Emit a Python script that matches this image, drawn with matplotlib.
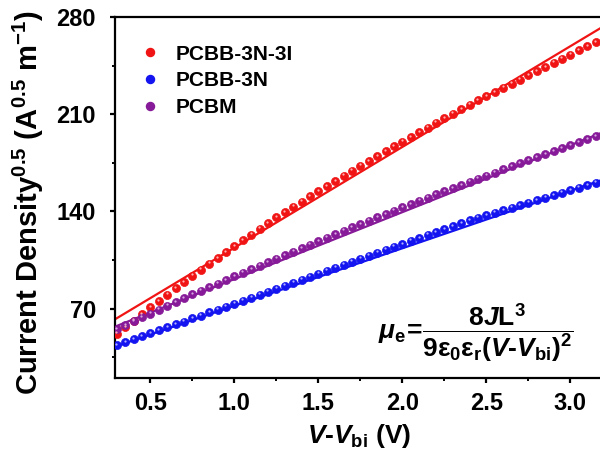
import matplotlib
matplotlib.use("Agg")
import matplotlib.pyplot as plt
from matplotlib.transforms import offset_copy
from matplotlib.lines import Line2D

plt.rcParams['font.family'] = ['Liberation Sans', 'DejaVu Sans']
plt.rcParams['font.weight'] = 'bold'
plt.rcParams['mathtext.fontset'] = 'custom'
plt.rcParams['mathtext.rm'] = 'Liberation Sans:bold'
plt.rcParams['mathtext.it'] = 'Liberation Sans:italic:bold'
plt.rcParams['mathtext.bf'] = 'Liberation Sans:bold'
plt.rcParams['mathtext.default'] = 'rm'

# ---- data ----
voltage = [0.30, 0.35, 0.40, 0.45, 0.50, 0.55, 0.60, 0.65, 0.70, 0.75,
           0.80, 0.85, 0.90, 0.95, 1.00, 1.05, 1.10, 1.15, 1.20, 1.25,
           1.30, 1.35, 1.40, 1.45, 1.50, 1.55, 1.60, 1.65, 1.70, 1.75,
           1.80, 1.85, 1.90, 1.95, 2.00, 2.05, 2.10, 2.15, 2.20, 2.25,
           2.30, 2.35, 2.40, 2.45, 2.50, 2.55, 2.60, 2.65, 2.70, 2.75,
           2.80, 2.85, 2.90, 2.95, 3.00, 3.05, 3.10, 3.15, 3.20]

pcbb_3n_3i = [52.0, 56.7, 61.4, 66.1, 70.8, 75.4, 80.0, 84.6, 89.2, 93.8,
              98.1, 102.3, 106.5, 110.7, 114.9, 119.1, 123.3, 127.5, 131.6, 135.7,
              139.5, 143.3, 147.1, 150.8, 154.5, 158.2, 161.9, 165.6, 169.3, 172.8,
              176.3, 179.8, 183.3, 186.8, 190.2, 193.6, 197.0, 200.4, 203.8, 207.1,
              210.4, 213.7, 217.0, 220.0, 223.0, 226.0, 229.0, 232.0, 235.0, 238.0,
              241.0, 244.0, 247.0, 250.0, 253.0, 256.0, 259.0, 262.0, 265.0]

pcbb_3n = [43.5, 45.7, 47.8, 50.0, 52.1, 54.3, 56.4, 58.6, 60.7, 62.9,
           65.0, 67.2, 69.3, 71.5, 73.6, 75.8, 77.9, 80.1, 82.2, 84.4,
           86.5, 88.7, 90.8, 93.0, 95.1, 97.3, 99.4, 101.6, 103.7, 105.9,
           108.0, 110.2, 112.3, 114.5, 116.6, 118.8, 120.9, 123.1, 125.2, 127.4,
           129.5, 131.7, 133.8, 135.6, 137.4, 139.2, 141.0, 142.8, 144.6, 146.4,
           148.2, 150.0, 151.8, 153.6, 155.4, 157.2, 159.0, 160.8, 162.6]

pcbm = [55.0, 57.9, 60.8, 63.6, 66.4, 69.2, 72.0, 74.8, 77.5, 80.2,
        82.8, 85.4, 88.0, 90.6, 93.2, 95.8, 98.4, 101.0, 103.5, 106.0,
        108.5, 111.0, 113.5, 116.0, 118.5, 121.0, 123.5, 126.0, 128.5, 130.9,
        133.3, 135.7, 138.1, 140.5, 142.9, 145.3, 147.6, 149.9, 152.2, 154.5,
        156.8, 159.1, 161.4, 163.6, 165.8, 168.0, 170.2, 172.4, 174.6, 176.8,
        179.0, 181.2, 183.4, 185.6, 187.8, 190.0, 192.2, 194.4, 196.6]

fit_x = [0.29, 3.22]
fit_pcbb_3n_3i = [62.3, 275.0]
fit_pcbb_3n = [42.6, 164.0]
fit_pcbm = [57.0, 198.3]

labels = ['PCBB-3N-3I', 'PCBB-3N', 'PCBM']
colors = ['#F01414', '#1414F0', '#861A98']
highlights = ['#FFB0B0', '#B0B0FF', '#D8A8E0']

series = [pcbb_3n_3i, pcbb_3n, pcbm]
fits = [fit_pcbb_3n_3i, fit_pcbb_3n, fit_pcbm]

fig = plt.figure(figsize=(6.0, 4.61), dpi=100)
ax = fig.add_axes([0.1917, 0.180, 0.8150, 0.783])

hl_trans = offset_copy(ax.transData, fig=fig, x=-0.4, y=1.0, units='points')
for ys, fy, c, h in zip(series, fits, colors, highlights):
    ax.plot(fit_x, fy, color=c, lw=1.6, zorder=2)
    ax.plot(voltage, ys, linestyle='none', marker='o', ms=5.8,
            mfc=c, mec=c, mew=0.5, zorder=3)
    ax.plot(voltage, ys, linestyle='none', marker='o', ms=1.6,
            mfc=h, mec='none', transform=hl_trans, zorder=4)

ax.set_xlim(0.29, 3.2)
ax.set_ylim(20, 280)
ax.set_xticks([0.5, 1.0, 1.5, 2.0, 2.5, 3.0])
ax.set_xticks([0.75, 1.25, 1.75, 2.25, 2.75], minor=True)
ax.set_yticks([70, 140, 210, 280])
ax.set_yticks([35, 105, 175, 245], minor=True)

for s in ax.spines.values():
    s.set_linewidth(1.6)
ax.tick_params(which='major', direction='out', length=3.8, width=1.6,
               labelsize=17, pad=6.5, top=False, right=False)
ax.tick_params(axis='y', which='major', pad=10)
ax.tick_params(which='minor', direction='out', length=2.3, width=1.4,
               top=False, right=False)
for lab in ax.get_xticklabels() + ax.get_yticklabels():
    lab.set_fontweight('bold')

ax.set_xlabel(r'$\mathit{V}$-$\mathit{V}_{\mathrm{bi}}$ (V)', fontsize=19,
              fontweight='bold', labelpad=5)
ax.set_ylabel(r'Current Density$^{0.5}$ (A$^{0.5}$ m$^{-1}$)', fontsize=21,
              fontweight='bold')
ax.yaxis.set_label_coords(-0.142, 0.485)

handles = [Line2D([], [], linestyle='none', marker='o', ms=5.8, mfc=c, mec=c)
           for c in colors]
ax.legend(handles, labels, loc='upper left', bbox_to_anchor=(0.03, 0.958),
          frameon=False, fontsize=15, handlelength=0.77, handletextpad=0.82,
          labelspacing=0.37, borderaxespad=0.2)

ax.text(0.538, 0.125,
        r'$\mathit{\mu}_{\mathrm{e}}\!{=}\!\dfrac{8\mathit{J}\mathrm{L}^{3}}'
        r'{9\mathrm{ε}_{0}\mathrm{ε}_{\mathrm{r}}(\mathit{V}‐\mathit{V}_{\mathrm{bi}})^{2}}$',
        transform=ax.transAxes, fontsize=19, ha='left', va='center')

fig.savefig('out.png', dpi=100)
